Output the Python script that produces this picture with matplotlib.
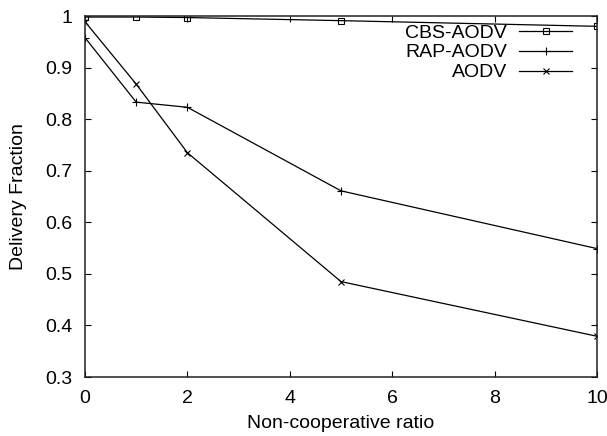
import matplotlib
matplotlib.use('Agg')
import matplotlib.pyplot as plt

plt.rcParams['font.family'] = ['Liberation Sans', 'DejaVu Sans']
plt.rcParams['font.size'] = 14

ratio = [0, 1, 2, 5, 10]
cbs_aodv = [0.998, 0.998, 0.997, 0.991, 0.980]
rap_aodv = [0.958, 0.833, 0.823, 0.661, 0.549]
aodv = [0.989, 0.868, 0.735, 0.485, 0.379]

fig = plt.figure(figsize=(6.07, 4.36), dpi=100)
ax = fig.add_axes([0.140, 0.1353, 0.8435, 0.828])

ax.plot(ratio, cbs_aodv, 'k-', marker='s', mfc='none', ms=4.5, lw=0.9, mew=0.8, label='CBS-AODV')
ax.plot(ratio, rap_aodv, 'k-', marker='+', ms=5.5, lw=0.9, mew=0.8, label='RAP-AODV')
ax.plot(ratio, aodv, 'k-', marker='x', ms=4.5, lw=0.9, mew=0.8, label='AODV')

ax.set_xlim(0, 10)
ax.set_ylim(0.3, 1)
ax.set_xticks([0, 2, 4, 6, 8, 10])
ax.set_yticks([0.3, 0.4, 0.5, 0.6, 0.7, 0.8, 0.9, 1])
ax.set_yticklabels(['0.3', '0.4', '0.5', '0.6', '0.7', '0.8', '0.9', '1'])
ax.tick_params(direction='in', top=True, right=True, length=4, width=0.8)
ax.tick_params(axis='x', pad=9)
ax.tick_params(axis='y', pad=9)
for s in ax.spines.values():
    s.set_linewidth(1.1)
    s.set_color('#222222')

ax.set_xlabel('Non-cooperative ratio', labelpad=6)
ax.set_ylabel('Delivery Fraction', labelpad=13)

ax.legend(loc='upper right', bbox_to_anchor=(0.951, 0.978), frameon=False,
          markerfirst=False, handlelength=2.7, borderpad=0, labelspacing=0.12,
          handletextpad=0.65, borderaxespad=0)

fig.savefig('out.png', dpi=100)
